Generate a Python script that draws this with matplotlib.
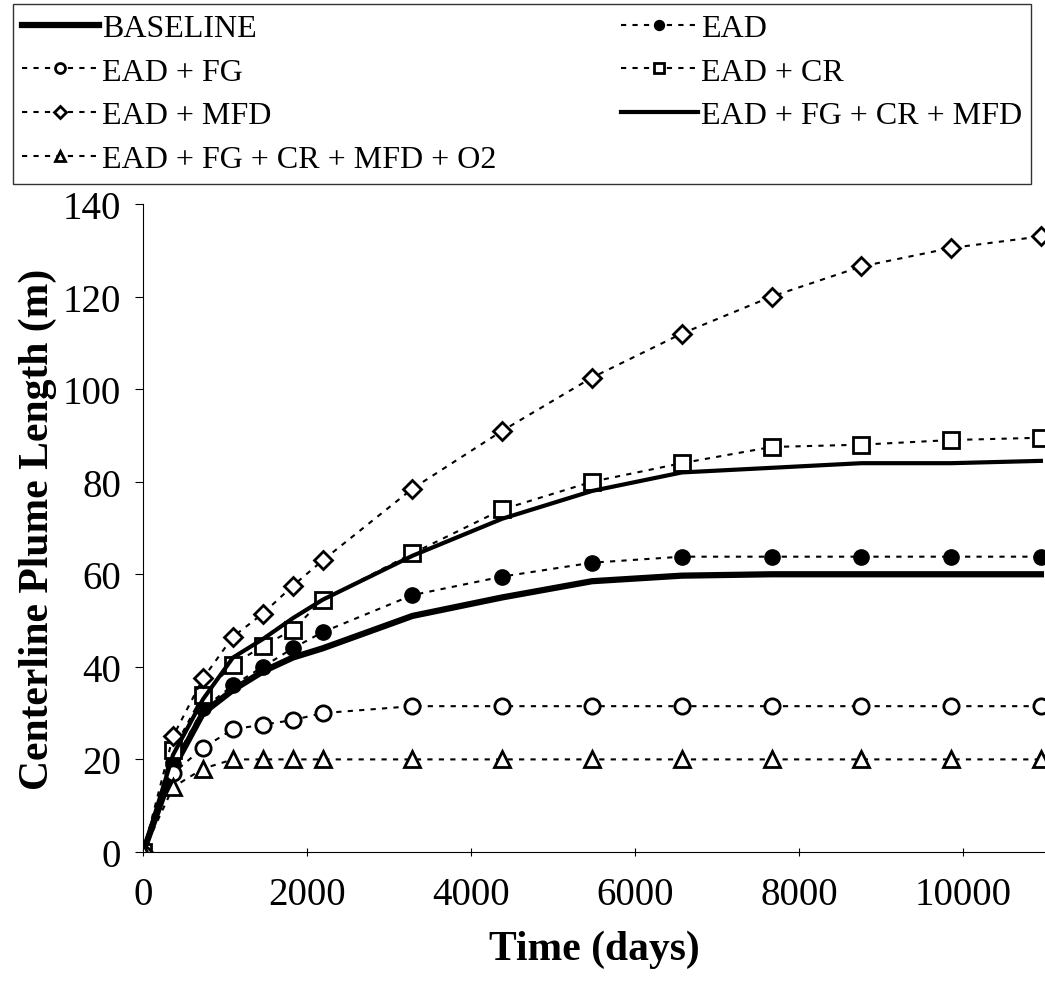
import numpy as np
import matplotlib
matplotlib.use("Agg")
import matplotlib.pyplot as plt

plt.rcParams['font.family'] = ['Liberation Serif', 'DejaVu Serif']

# time in days (yearly output)
days = [0, 365, 730, 1095, 1460, 1825, 2190, 3285, 4380, 5475, 6570, 7665, 8760, 9855, 10950]

baseline = [0, 18, 30, 35, 39, 42, 44, 51, 55, 58.5, 59.7, 60, 60, 60, 60]
ead = [0, 19, 31, 36, 40, 44, 47.5, 55.5, 59.5, 62.5, 63.8, 63.8, 63.8, 63.8, 63.8]
ead_fg = [0, 17, 22.5, 26.5, 27.5, 28.5, 30, 31.5, 31.5, 31.5, 31.5, 31.5, 31.5, 31.5, 31.5]
ead_cr = [0, 22, 34, 40.5, 44.5, 48, 54.5, 64.5, 74, 80, 84, 87.5, 88, 89, 89.5]
ead_mfd = [0, 25, 37.5, 46.5, 51.5, 57.5, 63, 78.5, 91, 102.5, 112, 120, 126.5, 130.5, 133]
ead_all = [0, 21, 33, 42, 46, 50.5, 54.5, 64, 72, 78, 82, 83, 84, 84, 84.5]
ead_all_o2 = [0, 14, 18, 20, 20, 20, 20, 20, 20, 20, 20, 20, 20, 20, 20]

fig = plt.figure(figsize=(10.45, 9.87), dpi=100)
ax = fig.add_axes([0.137, 0.1358, 0.863, 0.6565])

dash = (0, (2.5, 3))
ms = 11
h1, = ax.plot(days, baseline, color='k', lw=4.5, label='BASELINE')
h2, = ax.plot(days, ead, color='k', lw=1.5, ls=dash, marker='o', ms=ms, mfc='k', label='EAD')
h3, = ax.plot(days, ead_fg, color='k', lw=1.5, ls=dash, marker='o', ms=ms, mfc='w', mew=2, label='EAD + FG')
h4, = ax.plot(days, ead_cr, color='k', lw=1.5, ls=dash, marker='s', ms=ms, mfc='w', mew=2, label='EAD + CR')
h5, = ax.plot(days, ead_mfd, color='k', lw=1.5, ls=dash, marker='D', ms=ms * 0.8, mfc='w', mew=2, label='EAD + MFD')
h6, = ax.plot(days, ead_all, color='k', lw=3, label='EAD + FG + CR + MFD')
h7, = ax.plot(days, ead_all_o2, color='k', lw=1.5, ls=dash, marker='^', ms=ms, mfc='w', mew=2, label='EAD + FG + CR + MFD + O2')

ax.set_xlim(0, 11000)
ax.set_ylim(0, 140)
ax.set_xticks([0, 2000, 4000, 6000, 8000, 10000])
ax.set_yticks(range(0, 141, 20))
ax.spines['top'].set_visible(False)
ax.spines['right'].set_visible(False)
ax.tick_params(axis='both', labelsize=28, length=6)
ax.tick_params(axis='y', pad=10)
ax.tick_params(axis='x', direction='inout', pad=14)
ax.set_xlabel('Time (days)', fontsize=30, fontweight='bold', labelpad=12)
ax.set_ylabel('Centerline Plume Length (m)', fontsize=30, fontweight='bold', labelpad=4)

order = [h1, h3, h5, h7, h2, h4, h6]
leg = fig.legend(handles=order, loc='upper left', ncol=2,
                 bbox_to_anchor=(0.012, 0.81, 0.975, 0.185), mode='expand',
                 fontsize=23, frameon=True, fancybox=False, edgecolor='k',
                 handlelength=2.4, markerscale=0.65, labelspacing=0.45,
                 borderaxespad=0, handletextpad=0.1, borderpad=0.3)
leg.get_frame().set_linewidth(1)

fig.savefig('out.png', dpi=100)
